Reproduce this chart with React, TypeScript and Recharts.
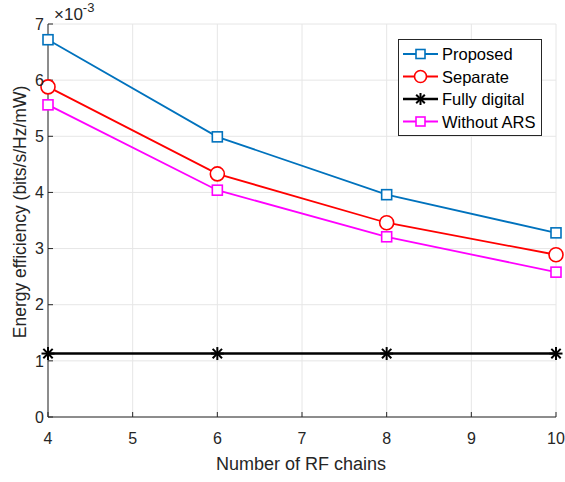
import React from 'react';
import { LineChart, Line, XAxis, YAxis, CartesianGrid, Legend } from 'recharts';

// values in units of 1e-3 bits/s/Hz/mW
const rfChains = [4, 6, 8, 10];
const proposed = [6.72, 4.99, 3.96, 3.28];
const separate = [5.88, 4.33, 3.46, 2.89];
const fullyDigital = [1.13, 1.13, 1.13, 1.13];
const withoutArs = [5.56, 4.04, 3.21, 2.58];

const xTicks = [4, 5, 6, 7, 8, 9, 10];
const yTicks = [0, 1, 2, 3, 4, 5, 6, 7];

const data = rfChains.map((n, i) => ({
  n,
  proposed: proposed[i],
  separate: separate[i],
  fullyDigital: fullyDigital[i],
  withoutArs: withoutArs[i],
}));

const FONT = '"Liberation Sans", Arial, Helvetica, sans-serif';
const AXIS = '#262626';
const BLUE = '#0072BD';
const RED = '#FF0000';
const MAGENTA = '#FF00FF';

const Square = ({ cx, cy, color, s = 5 }: any) => (
  <rect x={cx - s} y={cy - s} width={2 * s} height={2 * s} fill="white" stroke={color} strokeWidth={1.6} />
);

const Circle = ({ cx, cy, color, s = 7 }: any) => (
  <circle cx={cx} cy={cy} r={s} fill="white" stroke={color} strokeWidth={1.6} />
);

const Star = ({ cx, cy, color, s = 6.5 }: any) => {
  const d = s * 0.72;
  return (
    <g stroke={color} strokeWidth={2}>
      <line x1={cx - s} y1={cy} x2={cx + s} y2={cy} />
      <line x1={cx} y1={cy - s} x2={cx} y2={cy + s} />
      <line x1={cx - d} y1={cy - d} x2={cx + d} y2={cy + d} />
      <line x1={cx - d} y1={cy + d} x2={cx + d} y2={cy - d} />
    </g>
  );
};

const legendItems = [
  { label: 'Proposed', color: BLUE, Marker: Square, s: 4.5 },
  { label: 'Separate', color: RED, Marker: Circle, s: 6 },
  { label: 'Fully digital', color: '#000000', Marker: Star, s: 6 },
  { label: 'Without ARS', color: MAGENTA, Marker: Square, s: 4.5 },
];

const LegendBox = () => (
  <svg width={144} height={97} style={{ display: 'block' }}>
    <rect x={0.5} y={0.5} width={143} height={96} fill="white" stroke={AXIS} strokeWidth={1} />
    {legendItems.map((it, i) => {
      const y = 15 + i * 22.5;
      return (
        <g key={it.label}>
          <line x1={5} y1={y} x2={40} y2={y} stroke={it.color} strokeWidth={it.label === 'Fully digital' ? 2.5 : 1.8} />
          <it.Marker cx={22.5} cy={y} color={it.color} s={it.s} />
          <text x={44} y={y + 6} fontSize={16.5} fontFamily={FONT} fill="#000">
            {it.label}
          </text>
        </g>
      );
    })}
  </svg>
);

const tickStyle = { fontSize: 16, fontFamily: FONT, fill: AXIS };

export default function App() {
  return (
    <div style={{ position: 'absolute', left: 0, top: 0, width: 565, height: 482, background: 'white' }}>
      <LineChart width={565} height={482} data={data} margin={{ top: 24, right: 9, bottom: 0, left: 0 }}>
        <CartesianGrid stroke="#e6e6e6" strokeWidth={1} verticalValues={xTicks} horizontalValues={yTicks} />
        <XAxis
          dataKey="n"
          type="number"
          domain={[4, 10]}
          ticks={xTicks}
          height={65}
          stroke={AXIS}
          tick={tickStyle}
          tickSize={-5}
          tickMargin={21}
          tickLine={{ stroke: AXIS }}
          axisLine={{ stroke: AXIS }}
        />
        <XAxis
          xAxisId="top"
          orientation="top"
          type="number"
          domain={[4, 10]}
          ticks={xTicks}
          height={0}
          tick={false}
          tickSize={-5}
          stroke={AXIS}
        />
        <YAxis
          type="number"
          domain={[0, 7]}
          ticks={yTicks}
          width={48}
          stroke={AXIS}
          tick={tickStyle}
          tickSize={-5}
          tickMargin={9}
          axisLine={{ stroke: AXIS }}
        />
        <YAxis
          yAxisId="right"
          orientation="right"
          type="number"
          domain={[0, 7]}
          ticks={yTicks}
          width={0}
          tick={false}
          tickSize={-5}
          stroke={AXIS}
        />
        <Legend
          layout="horizontal"
          verticalAlign="middle"
          align="center"
          content={<LegendBox />}
          wrapperStyle={{ position: 'absolute', left: 398, top: 39, width: 144, height: 97 }}
        />
        <Line
          dataKey="fullyDigital"
          stroke="#000000"
          strokeWidth={2.5}
          isAnimationActive={false}
          dot={(p: any) => <Star key={`fd${p.index}`} cx={p.cx} cy={p.cy} color="#000000" />}
        />
        <Line
          dataKey="withoutArs"
          stroke={MAGENTA}
          strokeWidth={1.8}
          isAnimationActive={false}
          dot={(p: any) => <Square key={`wa${p.index}`} cx={p.cx} cy={p.cy} color={MAGENTA} />}
        />
        <Line
          dataKey="separate"
          stroke={RED}
          strokeWidth={1.8}
          isAnimationActive={false}
          dot={(p: any) => <Circle key={`se${p.index}`} cx={p.cx} cy={p.cy} color={RED} />}
        />
        <Line
          dataKey="proposed"
          stroke={BLUE}
          strokeWidth={1.8}
          isAnimationActive={false}
          dot={(p: any) => <Square key={`pr${p.index}`} cx={p.cx} cy={p.cy} color={BLUE} />}
        />
      </LineChart>
      <svg width={565} height={482} style={{ position: 'absolute', left: 0, top: 0, pointerEvents: 'none' }}>
        <text x={54} y={20} fontSize={17} fontFamily={FONT} fill={AXIS}>
          ×10
          <tspan dy={-8} fontSize={13}>-3</tspan>
        </text>
        <text x={301} y={470} textAnchor="middle" fontSize={18} fontFamily={FONT} fill={AXIS}>
          Number of RF chains
        </text>
        <text
          transform="translate(26,212) rotate(-90)"
          textAnchor="middle"
          fontSize={17.5}
          fontFamily={FONT}
          fill={AXIS}
        >
          Energy efficiency (bits/s/Hz/mW)
        </text>
      </svg>
    </div>
  );
}
